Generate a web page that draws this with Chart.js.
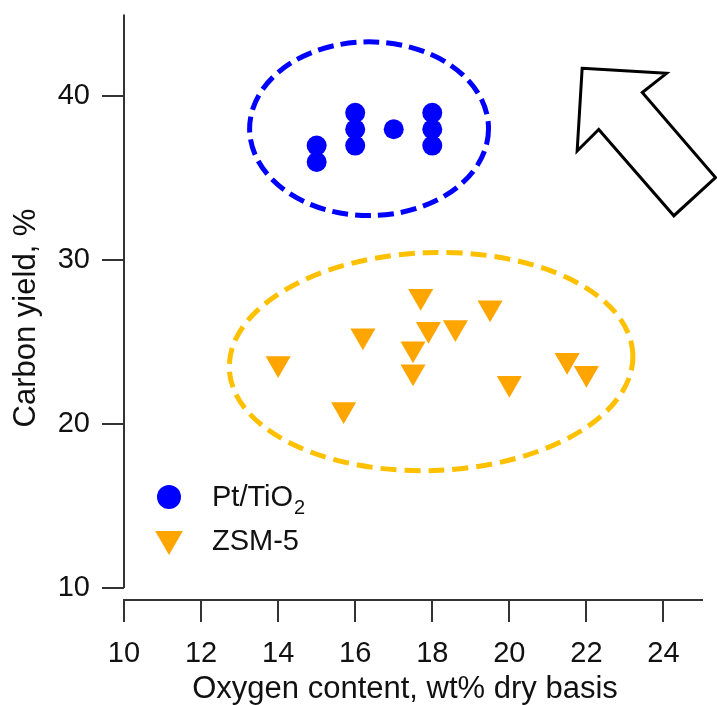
<!DOCTYPE html>
<html>
<head>
<meta charset="utf-8">
<script src="https://cdn.jsdelivr.net/npm/chart.js@4"></script>
<style>
html, body { margin: 0; padding: 0; background: #fff; }
</style>
</head>
<body>
<canvas id="myChart" width="717" height="705"></canvas>
<script>
// data
var ptOxygen = [15, 15, 16, 16, 16, 17, 18, 18, 18];
var ptYield = [37, 36, 39, 38, 37, 38, 39, 38, 37];
var zsmOxygen = [14, 15.7, 16.2, 17.5, 17.5, 17.7, 17.9, 18.6, 19.5, 20, 21.5, 22];
var zsmYield = [23.7, 20.9, 25.4, 24.6, 23.2, 27.8, 25.8, 25.9, 27.1, 22.5, 23.9, 23.1];
var xTicks = [10, 12, 14, 16, 18, 20, 22, 24];
var yTicks = [10, 20, 30, 40];

var FONT = "'Liberation Sans', Arial, sans-serif";
var AXIS = "#333";
var BLUE = "#0000ff";
var ORANGE = "#ffa500";
var GOLD = "#ffc000";

// dashed ellipses and the hollow arrow, in data units
var groups = [
  { cx: 16.36, cy: 38.03, rx: 3.1, ry: 5.3, rot: 0, color: BLUE, dash: [16, 7] },
  { cx: 17.97, cy: 23.82, rx: 5.24, ry: 6.65, rot: -2, color: GOLD, dash: [16, 8] }
];
var arrow = [[21.89, 41.72], [24.08, 41.41], [23.45, 40.24], [25.35, 35.05],
             [24.27, 32.72], [22.32, 37.98], [21.76, 36.67]];

var extras = {
  id: "extras",
  beforeDatasetsDraw(chart) {
    var c = chart.ctx, x = chart.scales.x, y = chart.scales.y;
    groups.forEach(function (g) {
      var px = x.getPixelForValue(g.cx), py = y.getPixelForValue(g.cy);
      var rx = x.getPixelForValue(g.cx + g.rx) - px;
      var ry = py - y.getPixelForValue(g.cy + g.ry);
      c.save();
      c.strokeStyle = g.color;
      c.lineWidth = 5;
      c.setLineDash(g.dash);
      c.beginPath();
      c.ellipse(px, py, rx, ry, g.rot * Math.PI / 180, 0, Math.PI * 2);
      c.stroke();
      c.restore();
    });
  },
  afterDraw(chart) {
    var c = chart.ctx, x = chart.scales.x, y = chart.scales.y;
    var area = chart.chartArea;
    c.save();
    // y axis line stops short of the x axis
    c.strokeStyle = AXIS;
    c.lineWidth = 2;
    c.beginPath();
    c.moveTo(area.left, y.getPixelForValue(45));
    c.lineTo(area.left, y.getPixelForValue(10));
    c.stroke();

    // axis titles
    c.fillStyle = "#111";
    c.font = "31px " + FONT;
    c.textAlign = "center";
    c.textBaseline = "alphabetic";
    c.fillText("Oxygen content, wt% dry basis", 405, 698);
    c.save();
    c.translate(35, 318);
    c.rotate(-Math.PI / 2);
    c.fillText("Carbon yield, %", 0, 0);
    c.restore();

    // arrow
    c.strokeStyle = "#000";
    c.lineWidth = 3;
    c.lineJoin = "miter";
    c.beginPath();
    arrow.forEach(function (p, i) {
      var px = x.getPixelForValue(p[0]), py = y.getPixelForValue(p[1]);
      if (i === 0) c.moveTo(px, py); else c.lineTo(px, py);
    });
    c.closePath();
    c.stroke();

    // legend
    c.fillStyle = BLUE;
    c.beginPath(); c.arc(169, 497, 12, 0, Math.PI * 2); c.fill();
    c.fillStyle = ORANGE;
    c.strokeStyle = ORANGE;
    Chart.helpers.drawPoint(c, { pointStyle: "triangle", radius: 16, rotation: 180, borderWidth: 0 }, 169, 539);
    c.fillStyle = "#111";
    c.textAlign = "left";
    c.font = "29px " + FONT;
    c.fillText("Pt/TiO", 212, 506);
    var w = c.measureText("Pt/TiO").width;
    c.font = "20px " + FONT;
    c.fillText("2", 212 + w + 1, 514);
    c.font = "29px " + FONT;
    c.fillText("ZSM-5", 212, 550);
    c.restore();
  }
};

function noOverhang(s) {
  s.paddingTop = 0; s.paddingBottom = 0; s.paddingLeft = 0; s.paddingRight = 0;
}

var ctx = document.getElementById("myChart");
var myChart = new Chart(ctx, {
  type: "scatter",
  data: {
    datasets: [
      {
        label: "Pt/TiO2",
        data: ptOxygen.map(function (v, i) { return { x: v, y: ptYield[i] }; }),
        pointStyle: "circle",
        pointRadius: 10,
        pointBorderWidth: 0,
        backgroundColor: BLUE,
      },
      {
        label: "ZSM-5",
        data: zsmOxygen.map(function (v, i) { return { x: v, y: zsmYield[i] }; }),
        pointStyle: "triangle",
        pointRotation: 180,
        pointRadius: 14.5,
        pointBorderWidth: 0,
        backgroundColor: ORANGE,
      },
    ],
  },
  options: {
    responsive: false,
    animation: false,
    devicePixelRatio: 1,
    layout: { padding: { top: 11, right: 15, left: 0, bottom: 0 } },
    scales: {
      x: {
        type: "linear",
        min: 10,
        max: 25,
        afterBuildTicks: function (s) { s.ticks = xTicks.map(function (v) { return { value: v }; }); },
        afterFit: function (s) { s.height = 105; noOverhang(s); },
        grid: { display: true, drawOnChartArea: false, drawTicks: true, tickLength: 22, color: AXIS, lineWidth: 2 },
        border: { display: true, color: AXIS, width: 2 },
        ticks: { font: { size: 29, family: FONT }, color: "#111", padding: 15, maxRotation: 0, autoSkip: false },
      },
      y: {
        type: "linear",
        min: 9.27,
        max: 45,
        afterBuildTicks: function (s) { s.ticks = yTicks.map(function (v) { return { value: v }; }); },
        afterFit: function (s) { s.width = 124; noOverhang(s); },
        grid: { display: true, drawOnChartArea: false, drawTicks: true, tickLength: 22, color: AXIS, lineWidth: 2 },
        border: { display: false },
        ticks: { font: { size: 29, family: FONT }, color: "#111", padding: 12, autoSkip: false },
      },
    },
    plugins: {
      legend: { display: false },
      tooltip: { enabled: false },
    },
  },
  plugins: [extras],
});
</script>
</body>
</html>
